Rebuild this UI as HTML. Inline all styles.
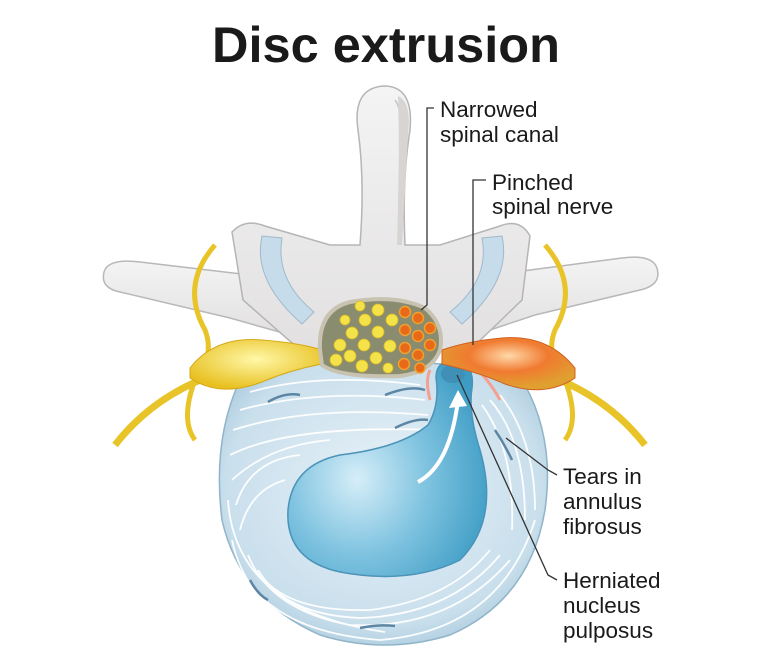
<!DOCTYPE html>
<html><head><meta charset="utf-8"><style>
html,body{margin:0;padding:0;background:#fff;width:766px;height:652px;overflow:hidden}
svg{display:block}
text{font-family:"Liberation Sans",Arial,sans-serif;fill:#1a1a1a}
</style></head><body>
<svg width="766" height="652" viewBox="0 0 766 652" xmlns="http://www.w3.org/2000/svg">
<defs>
<radialGradient id="disc" cx="0.5" cy="0.45" r="0.6">
<stop offset="0" stop-color="#e8f2f8"/><stop offset="0.8" stop-color="#c9dfec"/><stop offset="1" stop-color="#a9c9dc"/>
</radialGradient>
<radialGradient id="nuc" cx="0.35" cy="0.55" r="0.7">
<stop offset="0" stop-color="#d6eef8"/><stop offset="0.5" stop-color="#7fc3e0"/><stop offset="1" stop-color="#3d9cc4"/>
</radialGradient>
<linearGradient id="bone" x1="0" y1="0" x2="0" y2="1">
<stop offset="0" stop-color="#f4f4f4"/><stop offset="1" stop-color="#e2e0e0"/>
</linearGradient>
<radialGradient id="yel" cx="0.5" cy="0.4" r="0.6"><stop offset="0" stop-color="#fff8a8"/><stop offset="1" stop-color="#e8c020"/></radialGradient>
<radialGradient id="red" cx="0.5" cy="0.35" r="0.6"><stop offset="0" stop-color="#ffd8a8"/><stop offset="0.5" stop-color="#f07a30"/><stop offset="1" stop-color="#e0a030"/></radialGradient>
</defs>

<text x="212" y="62" font-size="50" font-weight="bold" textLength="348" lengthAdjust="spacingAndGlyphs">Disc extrusion</text>

<!-- transverse processes -->
<path d="M104,272 Q108,258 140,262 L250,275 L300,300 L290,335 L230,318 L120,292 Q100,288 104,272Z" fill="url(#bone)" stroke="#b8b8b8" stroke-width="1.5"/>
<path d="M657,268 Q652,254 622,258 L515,272 L465,300 L475,335 L535,315 L640,290 Q662,285 657,268Z" fill="url(#bone)" stroke="#b8b8b8" stroke-width="1.5"/>
<!-- lamina / spinous -->
<path d="M232,232 Q245,218 265,226 L330,245 L360,245 Q365,180 358,130 Q352,88 384,86 Q414,86 410,130 Q402,180 405,245 L440,245 L500,226 Q520,218 530,236 L522,300 L470,350 L300,350 L243,300Z" fill="url(#bone)" stroke="#b5b5b5" stroke-width="1.5"/>
<path d="M395,100 Q404,112 400,150 L398,245" stroke="#c8c4c4" stroke-width="1.5" fill="none"/>
<path d="M398,96 Q412,102 408,135 L402,245 L397,245 Q400,160 398,96Z" fill="#d8d4d2"/>
<!-- facet joints blue -->
<path d="M262,236 Q252,280 302,324 L314,312 Q275,280 282,238Z" fill="#c7dcea" stroke="#9fb9cc"/>
<path d="M502,236 Q512,280 462,324 L450,312 Q490,280 482,238Z" fill="#c7dcea" stroke="#9fb9cc"/>

<!-- nerve roots thin -->
<path d="M215,245 Q180,285 205,330 Q215,355 195,380 Q180,420 195,440" stroke="#e8c428" stroke-width="5" fill="none"/>
<path d="M545,245 Q580,285 555,330 Q545,355 565,380 Q580,420 565,440" stroke="#e8c428" stroke-width="5" fill="none"/>
<path d="M205,378 Q150,400 115,445" stroke="#e8c428" stroke-width="7" fill="none"/>
<path d="M555,378 Q610,400 645,445" stroke="#e8c428" stroke-width="7" fill="none"/>

<!-- disc -->
<path d="M240,380 Q300,355 384,362 Q470,360 525,385 Q555,440 545,510 Q530,600 450,635 Q385,655 320,635 Q240,600 222,520 Q212,440 240,380Z" fill="url(#disc)" stroke="#90b4c8" stroke-width="1.5"/>
<g fill="none" stroke="#ffffff" stroke-width="1.8" opacity="0.95">
<path d="M250,392 Q320,372 420,385"/>
<path d="M240,410 Q320,388 425,400"/>
<path d="M233,430 Q310,405 428,415"/>
<path d="M230,455 Q290,425 430,430"/>
<path d="M232,480 Q270,445 330,440"/>
<path d="M236,505 Q250,460 300,455"/>
<path d="M240,530 Q250,490 285,480"/>
<path d="M248,555 Q270,610 350,625 Q450,630 510,560"/>
<path d="M258,570 Q285,615 360,618 Q450,615 500,555"/>
<path d="M270,585 Q300,612 370,610 Q450,600 490,550"/>
<path d="M232,540 Q250,630 380,640 Q500,630 535,520"/>
<path d="M490,400 Q525,440 525,520"/>
<path d="M500,395 Q535,440 535,510"/>
<path d="M482,405 Q515,450 512,530"/>
<path d="M228,500 Q235,610 385,632"/>
</g>
<g stroke="#5d86a4" stroke-width="2.5" fill="none">
<path d="M268,402 Q285,392 300,395"/><path d="M385,395 Q410,385 425,390"/>
<path d="M395,428 Q415,418 428,420"/><path d="M495,430 Q505,445 512,460"/>
<path d="M250,580 Q258,595 268,600"/><path d="M360,628 Q380,624 395,626"/>
</g>
<!-- nucleus -->
<path d="M436,378 Q436,360 455,360 Q475,364 472,388 Q468,412 480,450 Q500,520 460,560 Q410,585 340,572 Q285,560 288,510 Q292,465 340,455 Q400,448 428,425 Q440,405 436,378Z" fill="url(#nuc)" stroke="#4b93b8" stroke-width="1.5"/>
<ellipse cx="453" cy="374" rx="12" ry="9" fill="#3f8fb6"/>
<path d="M418,482 Q450,465 458,400" stroke="#fff" stroke-width="4" fill="none"/>
<polygon points="458,390 449,408 467,406" fill="#fff"/>
<path d="M430,370 Q425,380 430,400" stroke="#f4a090" stroke-width="3" fill="none"/>
<path d="M480,372 Q492,385 500,400" stroke="#f4a090" stroke-width="3" fill="none"/>

<!-- nerves -->
<path d="M190,368 Q215,336 262,340 Q300,343 322,350 L322,364 Q290,370 262,382 Q220,398 190,378Z" fill="url(#yel)" stroke="#d4a818" stroke-width="1"/>
<path d="M575,368 Q548,334 502,338 Q468,341 442,350 L442,364 Q478,372 505,384 Q545,398 575,378Z" fill="url(#red)" stroke="#d06020" stroke-width="1"/>

<!-- canal -->
<path d="M320,350 Q318,310 350,302 Q395,294 425,308 Q445,325 440,350 Q432,372 400,376 Q340,378 322,365Z" fill="#8a8c70" stroke="#c8c2b0" stroke-width="4"/>
<g fill="#f4e24a" stroke="#d8b820" stroke-width="0.8">
<circle cx="340" cy="345" r="6"/><circle cx="352" cy="333" r="6"/><circle cx="365" cy="320" r="6"/><circle cx="378" cy="310" r="6"/>
<circle cx="336" cy="360" r="6"/><circle cx="350" cy="356" r="6"/><circle cx="364" cy="345" r="6"/><circle cx="378" cy="332" r="6"/>
<circle cx="362" cy="366" r="6"/><circle cx="376" cy="358" r="6"/><circle cx="390" cy="346" r="6"/><circle cx="392" cy="320" r="6"/>
<circle cx="345" cy="320" r="5"/><circle cx="388" cy="368" r="5"/><circle cx="360" cy="306" r="5"/>
</g>
<g fill="#e86a18" stroke="#f0a030" stroke-width="1.5">
<circle cx="405" cy="312" r="5.5"/><circle cx="418" cy="318" r="5.5"/><circle cx="430" cy="328" r="5.5"/><circle cx="405" cy="330" r="5.5"/>
<circle cx="418" cy="336" r="5.5"/><circle cx="430" cy="345" r="5.5"/><circle cx="405" cy="348" r="5.5"/><circle cx="418" cy="355" r="5.5"/>
<circle cx="404" cy="364" r="5.5"/><circle cx="420" cy="368" r="5"/>
</g>

<!-- leaders -->
<g stroke="#333" stroke-width="1.3" fill="none">
<path d="M434,108 L427,108 L427,305 L421,310"/>
<path d="M486,180 L473,180 L473,345"/>
<path d="M557,475 L548,470 L506,438"/>
<path d="M557,580 L548,575 L457,375"/>
</g>

<g font-size="22.5">
<text x="440" y="117">Narrowed</text>
<text x="440" y="142">spinal canal</text>
<text x="492" y="190">Pinched</text>
<text x="492" y="214">spinal nerve</text>
<text x="563" y="484">Tears in</text>
<text x="563" y="509">annulus</text>
<text x="563" y="534">fibrosus</text>
<text x="563" y="588">Herniated</text>
<text x="563" y="613">nucleus</text>
<text x="563" y="638">pulposus</text>
</g>
</svg>
</body></html>
